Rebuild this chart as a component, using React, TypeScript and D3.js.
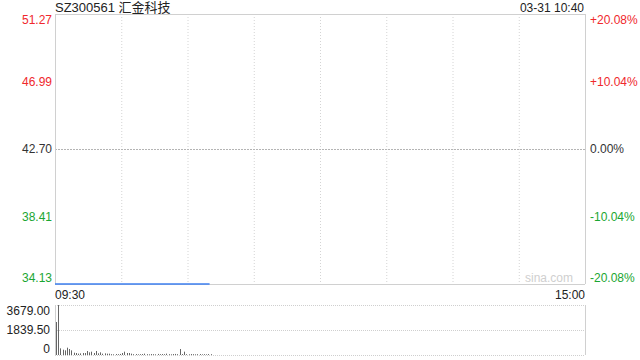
import React from "react";
import * as d3 from "d3";

const title = "SZ300561 汇金科技";
const stamp = "03-31 10:40";
const priceTicks = [51.27, 46.99, 42.70, 38.41, 34.13];
const pctTicks = ["+20.08%", "+10.04%", "0.00%", "-10.04%", "-20.08%"];
const prevClose = 42.70;
const volTicks = [3679.0, 1839.5, 0];
const volTickLabels = ["3679.00", "1839.50", "0"];
const timeLabels = ["09:30", "15:00"];

// minute price, 09:30 -> 10:40 (limit down all along)
const prices = [
  34.13, 34.13, 34.13, 34.13, 34.13, 34.13, 34.13, 34.13, 34.13, 34.13,
  34.13, 34.13, 34.13, 34.13, 34.13, 34.13, 34.13, 34.13, 34.13, 34.13,
  34.13, 34.13, 34.13, 34.13, 34.13, 34.13, 34.13, 34.13, 34.13, 34.13,
  34.13, 34.13, 34.13, 34.13, 34.13, 34.13, 34.13, 34.13, 34.13, 34.13,
  34.13, 34.13, 34.13, 34.13, 34.13, 34.13, 34.13, 34.13, 34.13, 34.13,
  34.13, 34.13, 34.13, 34.13, 34.13, 34.13, 34.13, 34.13, 34.13, 34.13,
  34.13, 34.13, 34.13, 34.13, 34.13, 34.13, 34.13, 34.13, 34.13, 34.13,
  34.13,
];

// minute volume
const volumes = [
  2428, 3679, 490, 390, 343, 540, 440, 343, 170, 147,
  100, 120, 147, 147, 294, 196, 245, 147, 294, 122,
  196, 98, 122, 98, 98, 60, 50, 70, 60, 80,
  147, 245, 147, 147, 98, 60, 70, 50, 60, 70,
  100, 60, 50, 70, 60, 50, 80, 60, 70, 60,
  100, 60, 50, 70, 80, 60, 440, 70, 245, 60,
  50, 70, 60, 50, 60, 70, 50, 60, 50, 70,
  60,
];

const W = 640, H = 360;
const L = 55, R = 585;
const PT = 14, PB = 284;
const VT = 305, VB = 355;
const FONT = "'Liberation Sans', Arial, 'Noto Sans CJK SC', sans-serif";
const RED = "#f0282d";
const GREEN = "#1aa632";

export default function App() {
  const x = d3.scaleLinear().domain([0, 240]).range([L, R]);
  const y = d3.scaleLinear().domain([priceTicks[4], priceTicks[0]]).range([PB, PT]);
  const yv = d3.scaleLinear().domain([0, volTicks[0]]).range([VB, VT]);
  const line = d3.line<number>().x((_, i) => x(i)).y((d) => y(d));
  const vGrid = d3.range(1, 8).map((k) => L + (k * (R - L)) / 8);

  const colorFor = (v: number) => (v > prevClose + 1e-9 ? RED : v < prevClose - 1e-9 ? GREEN : "#333");
  const labelY = (i: number, yy: number) => (i === 0 ? yy + 6 : i === 4 ? yy - 6 : yy);

  return (
    <svg width={W} height={H} style={{ position: "absolute", left: 0, top: 0, background: "#fff" }} fontFamily={FONT}>
      <rect x={0} y={0} width={W} height={H} fill="#fff" />
      {/* header */}
      <text x={L} y={12} fontSize={13} fill="#222">{title}</text>
      <text x={R - 1} y={12} fontSize={12} fill="#222" textAnchor="end">{stamp}</text>

      {/* price panel grid */}
      {vGrid.map((gx, i) => (
        <line key={"vg" + i} x1={gx + 0.5} x2={gx + 0.5} y1={PT} y2={PB} stroke="#d4d4d4" strokeDasharray="1,2" />
      ))}
      <line x1={L} x2={R} y1={Math.round(y(prevClose)) + 0.5} y2={Math.round(y(prevClose)) + 0.5} stroke="#b4b4b4" strokeDasharray="2,1" />
      <line x1={L} x2={R} y1={PT + 0.5} y2={PT + 0.5} stroke="#d0d0d0" />
      <line x1={L + 0.5} x2={L + 0.5} y1={PT} y2={PB} stroke="#d0d0d0" />
      <line x1={R + 0.5} x2={R + 0.5} y1={PT} y2={PB} stroke="#d0d0d0" />
      <line x1={L} x2={R} y1={PB + 0.5} y2={PB + 0.5} stroke="#d0d0d0" />

      <text x={573} y={282} fontSize={12} fill="#cfcfcf" textAnchor="end">sina.com</text>

      {/* price line */}
      <path d={line(prices) || ""} fill="none" stroke="#3d7ff0" strokeWidth={1.4} />

      {/* price axis labels */}
      {priceTicks.map((v, i) => (
        <text key={"pl" + i} x={52} y={labelY(i, y(v))} dy="0.35em" fontSize={12} textAnchor="end" fill={colorFor(v)}>
          {v.toFixed(2)}
        </text>
      ))}
      {pctTicks.map((t, i) => (
        <text key={"pr" + i} x={590} y={labelY(i, y(priceTicks[i]))} dy="0.35em" fontSize={12} fill={colorFor(priceTicks[i])}>
          {t}
        </text>
      ))}

      {/* time labels */}
      <text x={L} y={295} dy="0.35em" fontSize={12} fill="#222">{timeLabels[0]}</text>
      <text x={R} y={295} dy="0.35em" fontSize={12} fill="#222" textAnchor="end">{timeLabels[1]}</text>

      {/* volume panel */}
      {volTicks.map((v, i) => (
        <line key={"vgl" + i} x1={L} x2={R} y1={Math.round(yv(v)) + 0.5} y2={Math.round(yv(v)) + 0.5} stroke="#cfcfcf" strokeDasharray="1,1" />
      ))}
      <line x1={L + 0.5} x2={L + 0.5} y1={VT} y2={VB} stroke="#d0d0d0" />
      <line x1={R + 0.5} x2={R + 0.5} y1={VT} y2={VB} stroke="#d0d0d0" />
      {volumes.map((v, i) => (
        <rect key={"vb" + i} x={Math.round(x(i)) + 1} y={yv(v)} width={1} height={VB - yv(v)} fill="#666" />
      ))}
      {volTicks.map((v, i) => (
        <text key={"vl" + i} x={50} y={labelY(i === 2 ? 4 : i, yv(v))} dy="0.35em" fontSize={12} textAnchor="end" fill="#222">
          {volTickLabels[i]}
        </text>
      ))}
    </svg>
  );
}
